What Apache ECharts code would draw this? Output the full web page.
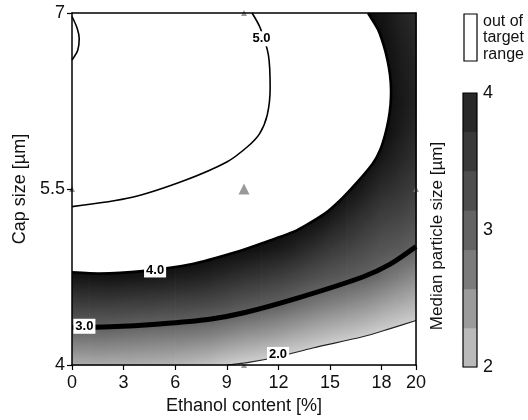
<!DOCTYPE html>
<html><head><meta charset="utf-8">
<script src="https://cdn.jsdelivr.net/npm/echarts@6/dist/echarts.min.js"></script>
<style>html,body{margin:0;padding:0;background:#fff}#c{width:528px;height:420px}</style>
</head><body><div id="c"></div>
<script>
// ---------- data ----------
const xTicks = [0, 3, 6, 9, 12, 15, 18, 20];
const yTicks = [4, 5.5, 7];
const cbTicks = [2, 3, 4];

// estimated median particle size at grid nodes: particleSize[i][j] at (xGrid[i], yGrid[j])
const xGrid = [0,1,2,3,4,5,6,7,8,9,10,11,12,13,14,15,16,17,18,19,20];
const yGrid = [4,4.25,4.5,4.75,5,5.25,5.5,5.75,6,6.25,6.5,6.75,7];
const particleSize = [
  [2.29,2.84,3.38,3.91,4.38,4.82,5.10,5.25,5.30,5.28,5.10,4.95,4.85],
  [2.30,2.85,3.39,3.92,4.38,4.80,5.10,5.26,5.32,5.30,5.20,5.10,5.02],
  [2.30,2.85,3.39,3.93,4.36,4.76,5.06,5.24,5.32,5.31,5.24,5.14,5.06],
  [2.28,2.83,3.37,3.91,4.33,4.72,5.02,5.22,5.31,5.31,5.25,5.16,5.08],
  [2.27,2.80,3.35,3.89,4.31,4.68,4.98,5.19,5.29,5.30,5.25,5.17,5.09],
  [2.25,2.78,3.33,3.87,4.29,4.64,4.94,5.15,5.26,5.28,5.24,5.16,5.08],
  [2.22,2.76,3.30,3.83,4.25,4.60,4.90,5.10,5.22,5.25,5.22,5.14,5.07],
  [2.16,2.73,3.27,3.79,4.20,4.55,4.84,5.05,5.17,5.21,5.18,5.11,5.05],
  [2.10,2.69,3.24,3.73,4.15,4.48,4.77,4.98,5.11,5.16,5.14,5.08,5.03],
  [2.00,2.61,3.17,3.65,4.09,4.40,4.69,4.91,5.05,5.10,5.09,5.05,5.02],
  [1.95,2.53,3.09,3.57,4.02,4.32,4.60,4.82,4.97,5.04,5.04,5.02,5.00],
  [1.90,2.47,3.04,3.50,3.96,4.24,4.49,4.71,4.88,4.97,5.00,4.98,4.93],
  [1.84,2.40,2.96,3.42,3.87,4.20,4.40,4.60,4.76,4.85,4.88,4.86,4.80],
  [1.77,2.31,2.86,3.33,3.77,4.10,4.30,4.48,4.62,4.70,4.73,4.71,4.65],
  [1.69,2.23,2.76,3.22,3.62,4.02,4.20,4.36,4.48,4.55,4.57,4.55,4.50],
  [1.62,2.15,2.67,3.13,3.49,3.85,4.20,4.28,4.38,4.43,4.45,4.43,4.38],
  [1.57,2.08,2.59,3.06,3.38,3.69,4.00,4.18,4.29,4.33,4.33,4.30,4.24],
  [1.52,2.02,2.50,2.99,3.27,3.54,3.82,4.07,4.20,4.24,4.22,4.15,4.03],
  [1.45,1.93,2.39,2.87,3.16,3.40,3.64,3.88,4.05,4.10,4.06,4.00,3.93],
  [1.40,1.86,2.29,2.72,3.10,3.33,3.54,3.72,3.85,3.90,3.88,3.83,3.76],
  [1.35,1.79,2.19,2.59,2.98,3.22,3.42,3.58,3.70,3.75,3.74,3.70,3.63]
];

// contour lines (ethanol %, cap size µm)
const contour5X = [0, 3.5, 6.5, 9.0, 10.2, 10.9, 11.35, 11.52, 11.42, 10.95, 10.47];
const contour5Y = [5.35, 5.43, 5.57, 5.73, 5.86, 5.97, 6.13, 6.36, 6.64, 6.87, 7.0];
const contour5LoopX = [0, 0.3, 0.42, 0.33, 0.05, 0];
const contour5LoopY = [6.97, 6.87, 6.78, 6.68, 6.61, 6.6];
const contour4X = [0, 1.6, 4.1, 7.0, 9.5, 11.1, 13.1, 14.7, 15.7, 16.6, 17.5, 17.91, 18.2, 18.4, 18.52, 18.55, 18.49, 18.34, 18.11, 17.79, 17.21];
const contour4Y = [4.79, 4.78, 4.80, 4.86, 4.96, 5.04, 5.15, 5.29, 5.42, 5.56, 5.72, 5.83, 5.96, 6.09, 6.22, 6.34, 6.47, 6.60, 6.73, 6.86, 7.0];
const contour3X = [0, 2.2, 5.1, 8.0, 10.0, 13.1, 16.9, 18.5, 20];
const contour3Y = [4.32, 4.325, 4.35, 4.39, 4.445, 4.57, 4.75, 4.86, 5.01];
const contour2X = [9.0, 10.2, 12.0, 14.0, 16.9, 18.5, 20];
const contour2Y = [4.0, 4.02, 4.07, 4.145, 4.24, 4.31, 4.38];

const contourLabels = ['5.0', '4.0', '3.0', '2.0'];
const contourLabelX = [11.02, 4.83, 0.72, 11.98];
const contourLabelY = [6.78, 4.81, 4.33, 4.09];

const designX = [10, 0, 20, 10, 10];
const designY = [5.5, 5.5, 5.5, 4, 7];

const cbEdges = [2, 2.286, 2.571, 2.857, 3.143, 3.429, 3.714, 4];
const cbColors = ['#bababa', '#9b9b9b', '#7b7b7b', '#636363', '#4e4e4e', '#3a3a3a', '#292929'];

// ---------- rendering ----------
const F = "'Liberation Sans', Arial, Helvetica, sans-serif";
const zip = (xs, ys) => xs.map((x, k) => [x, ys[k]]);

const shadeVals = [2, 2.5, 3, 3.5, 4];
const shadeGray = [205, 150, 96, 55, 14];
function colorOf(v) {
  v = Math.max(2, Math.min(4, v));
  let k = 0;
  while (k < shadeVals.length - 2 && v > shadeVals[k + 1]) k++;
  const t = (v - shadeVals[k]) / (shadeVals[k + 1] - shadeVals[k]);
  const g = Math.round(shadeGray[k] + t * (shadeGray[k + 1] - shadeGray[k]));
  return 'rgb(' + g + ',' + g + ',' + g + ')';
}

const cellData = [];
for (let i = 0; i < xGrid.length - 1; i++)
  for (let j = 0; j < yGrid.length - 1; j++)
    cellData.push([xGrid[i], yGrid[j], i, j]);

function renderCell(params, api) {
  const i = api.value(2), j = api.value(3);
  const pA = api.coord([xGrid[i], yGrid[j]]);
  const pB = api.coord([xGrid[i + 1], yGrid[j + 1]]);
  const x0 = pA[0], x1 = pB[0], yb = pA[1], yt = pB[1];
  const W = x1 - x0, H = yb - yt;
  const a = particleSize[i][j], b = particleSize[i + 1][j];
  const c = particleSize[i][j + 1], d = particleSize[i + 1][j + 1];
  const gx = ((b - a) + (d - c)) / 2 / W;
  const gy = -((c - a) + (d - b)) / 2 / H;
  const mag = Math.hypot(gx, gy);
  const cx = (x0 + x1) / 2, cy = (yb + yt) / 2, vc = (a + b + c + d) / 4;
  let fill;
  if (mag < 1e-9) fill = colorOf(vc);
  else {
    const ux = gx / mag, uy = gy / mag;
    const L = (Math.abs(ux) * W + Math.abs(uy) * H) / 2;
    const stops = [];
    for (let k = 0; k <= 8; k++) {
      const t = k / 8;
      stops.push({ offset: t, color: colorOf(vc + mag * L * (2 * t - 1)) });
    }
    fill = new echarts.graphic.LinearGradient(cx - ux * L, cy - uy * L, cx + ux * L, cy + uy * L, stops, true);
  }
  return { type: 'rect', silent: true, shape: { x: x0, y: yt, width: W + 0.7, height: H + 0.7 }, style: { fill: fill } };
}

const highPoly = zip(contour4X, contour4Y).concat([[0, 7]]);
const lowPoly = zip(contour2X, contour2Y).concat([[20, 4]]);
function polyRenderer(pts) {
  return function (params, api) {
    return { type: 'polygon', silent: true, shape: { points: pts.map(p => api.coord(p)) }, style: { fill: '#fff' } };
  };
}

function contourLine(name, xs, ys, width, color, smooth) {
  return {
    type: 'line', name: name, data: zip(xs, ys), symbol: 'none', smooth: smooth, z: 3,
    lineStyle: { color: color, width: width }, silent: true
  };
}

const chart = echarts.init(document.getElementById('c'), null, { renderer: 'canvas' });
chart.setOption({
  animation: false,
  backgroundColor: '#fff',
  grid: [
    { left: 72, top: 13, width: 344, height: 352 },
    { left: 463, top: 93, width: 14, height: 274 }
  ],
  xAxis: [
    {
      type: 'value', gridIndex: 0, min: 0, max: 20, position: 'bottom', z: 10,
      axisLine: { show: true, onZero: false, lineStyle: { color: '#000', width: 1.5 } },
      axisTick: { show: true, customValues: xTicks, length: 5, lineStyle: { color: '#000', width: 1.2 } },
      axisLabel: { customValues: xTicks, fontSize: 18, color: '#111', margin: 9, fontFamily: F },
      splitLine: { show: false },
      name: 'Ethanol content [%]', nameLocation: 'middle', nameGap: 25,
      nameTextStyle: { fontSize: 18, color: '#111', fontFamily: F }
    },
    {
      type: 'value', gridIndex: 0, min: 0, max: 20, position: 'top', z: 10,
      axisLine: { show: true, onZero: false, lineStyle: { color: '#000', width: 1.5 } },
      axisTick: { show: false }, axisLabel: { show: false }, splitLine: { show: false }
    },
    { type: 'value', gridIndex: 1, min: 0, max: 1, show: false }
  ],
  yAxis: [
    {
      type: 'value', gridIndex: 0, min: 4, max: 7, position: 'left', z: 10,
      axisLine: { show: true, onZero: false, lineStyle: { color: '#000', width: 1.5 } },
      axisTick: { show: true, customValues: yTicks, length: 5, lineStyle: { color: '#000', width: 1.2 } },
      axisLabel: { customValues: yTicks, fontSize: 18, color: '#111', margin: 7, fontFamily: F },
      splitLine: { show: false },
      name: 'Cap size [µm]', nameLocation: 'middle', nameGap: 41,
      nameTextStyle: { fontSize: 18, color: '#111', fontFamily: F }
    },
    {
      type: 'value', gridIndex: 0, min: 4, max: 7, position: 'right', z: 10,
      axisLine: { show: true, onZero: false, lineStyle: { color: '#000', width: 1.5 } },
      axisTick: { show: false }, axisLabel: { show: false }, splitLine: { show: false }
    },
    {
      type: 'value', gridIndex: 1, min: 2, max: 4, position: 'right',
      axisLine: { show: false }, axisTick: { show: false }, splitLine: { show: false },
      axisLabel: { customValues: cbTicks, fontSize: 18, color: '#111', margin: 6, fontFamily: F }
    }
  ],
  series: [
    { type: 'custom', name: 'surface', xAxisIndex: 0, yAxisIndex: 0, z: 1, silent: true,
      data: cellData, renderItem: renderCell },
    { type: 'custom', name: 'above4', xAxisIndex: 0, yAxisIndex: 0, z: 2, silent: true,
      data: [[0, 7]], renderItem: polyRenderer(highPoly) },
    { type: 'custom', name: 'below2', xAxisIndex: 0, yAxisIndex: 0, z: 2, silent: true,
      data: [[20, 4]], renderItem: polyRenderer(lowPoly) },
    contourLine('c5', contour5X, contour5Y, 1.6, '#000', 0.3),
    contourLine('c5loop', contour5LoopX, contour5LoopY, 1.6, '#000', 0.3),
    contourLine('c4', contour4X, contour4Y, 2.6, '#000', 0.2),
    contourLine('c3', contour3X, contour3Y, 5, '#000', 0.3),
    contourLine('c2', contour2X, contour2Y, 1.1, '#222', 0.3),
    {
      type: 'scatter', name: 'design', data: zip(designX, designY), symbol: 'triangle', clip: false, z: 4,
      symbolSize: (v, p) => (p.dataIndex === 0 ? 11 : 6),
      itemStyle: { color: '#7f7f7f' }, silent: true
    },
    {
      type: 'custom', name: 'contourLabels', xAxisIndex: 0, yAxisIndex: 0, z: 5, silent: true,
      data: contourLabels.map((t, k) => [contourLabelX[k], contourLabelY[k], k]),
      renderItem: function (params, api) {
        const p = api.coord([api.value(0), api.value(1)]);
        return {
          type: 'text', x: p[0], y: p[1],
          style: {
            text: contourLabels[api.value(2)], fill: '#000',
            font: 'bold 13px ' + F, align: 'center', verticalAlign: 'middle',
            backgroundColor: '#fff', padding: [1, 2]
          }
        };
      }
    },
    {
      type: 'custom', name: 'colorbar', xAxisIndex: 2, yAxisIndex: 2, z: 2, silent: true,
      data: cbColors.map((c, k) => [0.5, cbEdges[k], k]),
      renderItem: function (params, api) {
        const k = api.value(2);
        const p0 = api.coord([0, cbEdges[k]]), p1 = api.coord([1, cbEdges[k + 1]]);
        return { type: 'rect', shape: { x: p0[0], y: p1[1], width: p1[0] - p0[0], height: p0[1] - p1[1] + 0.5 },
                 style: { fill: cbColors[k] } };
      }
    },
    {
      type: 'custom', name: 'colorbarFrame', xAxisIndex: 2, yAxisIndex: 2, z: 3, silent: true,
      data: [[0.5, 3]],
      renderItem: function (params, api) {
        const p0 = api.coord([0, 2]), p1 = api.coord([1, 4]);
        return { type: 'rect', shape: { x: p0[0], y: p1[1], width: p1[0] - p0[0], height: p0[1] - p1[1] },
                 style: { fill: 'none', stroke: '#000', lineWidth: 1.2 } };
      }
    }
  ],
  graphic: [
    { type: 'rect', shape: { x: 464, y: 14, width: 13, height: 47 },
      style: { fill: '#fff', stroke: '#000', lineWidth: 1.2 } },
    { type: 'text', x: 483, y: 13,
      style: { text: 'out of\ntarget\nrange', fontSize: 16, lineHeight: 16.5, fill: '#111', fontFamily: F,
               align: 'left', verticalAlign: 'top', textAlign: 'left', textVerticalAlign: 'top' } },
    { type: 'text', x: 437, y: 236, rotation: Math.PI / 2,
      style: { text: 'Median particle size [µm]', fontSize: 17, fill: '#111', fontFamily: F,
               align: 'center', verticalAlign: 'middle', textAlign: 'center', textVerticalAlign: 'middle' } }
  ]
});
</script></body></html>
